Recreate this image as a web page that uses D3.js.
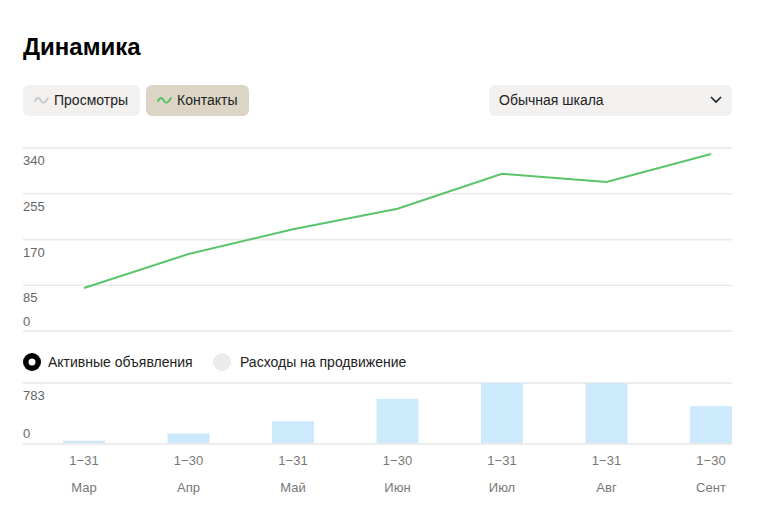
<!DOCTYPE html>
<html><head><meta charset="utf-8">
<script src="https://cdn.jsdelivr.net/npm/d3@7"></script>
<style>body{margin:0;background:#fff;font-family:"Liberation Sans",Arial,sans-serif}</style>
</head><body>
<svg id="c" width="759" height="523"></svg>
<script>
const months = ["Мар","Апр","Май","Июн","Июл","Авг","Сент"];
const ranges = ["1−31","1−30","1−31","1−30","1−31","1−31","1−30"];
const contacts = [80,143,189,227,292,277,329];
const activeAds = [30,125,284,577,783,783,481];
const lineTicks = [340,255,170,85,0];
const barTicks = [783,0];

const svg = d3.select("#c");
const F = '"Liberation Sans",Arial,sans-serif';

svg.append("text").attr("x",23).attr("y",55).attr("font-family",F)
  .attr("font-size",24).attr("font-weight","bold").attr("fill","#000").text("Динамика");

// buttons
function wave(g,x,y,color){
  g.append("path").attr("d",`M${x},${y+1} C${x+2},${y-3} ${x+4},${y-3} ${x+6},${y+1} C${x+8},${y+4} ${x+10},${y+3} ${x+13},${y-2}`)
   .attr("fill","none").attr("stroke",color).attr("stroke-width",1.8)
   .attr("stroke-linecap","round");
}
const b = svg.append("g");
b.append("rect").attr("x",23).attr("y",85).attr("width",117).attr("height",31).attr("rx",6).attr("fill","#f2f1ef");
wave(b,35,100,"#c9c9c9");
b.append("text").attr("x",54).attr("y",105).attr("font-family",F).attr("font-size",14).attr("fill","#222").text("Просмотры");
b.append("rect").attr("x",146).attr("y",85).attr("width",103).attr("height",31).attr("rx",6).attr("fill","#dcd5c5");
wave(b,158,100,"#4fc160");
b.append("text").attr("x",177).attr("y",105).attr("font-family",F).attr("font-size",14).attr("fill","#222").text("Контакты");

b.append("rect").attr("x",489).attr("y",85).attr("width",243).attr("height",31).attr("rx",6).attr("fill","#f2f1ef");
b.append("text").attr("x",499).attr("y",105).attr("font-family",F).attr("font-size",14).attr("fill","#222").text("Обычная шкала");
b.append("path").attr("d","M711,97 L716,102 L721,97").attr("fill","none").attr("stroke","#222").attr("stroke-width",1.6);

// scales
const x = d3.scalePoint().domain(months).range([84,711]);
const yL = d3.scaleLinear().domain([0,340]).range([331,148]);
const yB = d3.scaleLinear().domain([0,783]).range([443,383]);

// line chart grid
const gl = svg.append("g");
lineTicks.forEach((t,i)=>{
  const yy = yL(t);
  const thick = (i%2===0);
  gl.append("line").attr("x1",23).attr("x2",732).attr("y1",yy).attr("y2",yy)
    .attr("stroke", thick ? "#ececec" : "#e0e0e0").attr("stroke-width", thick?2:1);
  gl.append("text").attr("x",23).attr("y", t===0 ? yy-5 : yy+17)
    .attr("font-family",F).attr("font-size",13).attr("fill","#666").text(t);
});
svg.append("path").datum(contacts)
  .attr("d", d3.line().x((d,i)=>x(months[i])).y(d=>yL(d)))
  .attr("fill","none").attr("stroke","#5ac46b").attr("stroke-width",2);

// legend
const lg = svg.append("g");
lg.append("circle").attr("cx",32).attr("cy",362).attr("r",9).attr("fill","#000");
lg.append("circle").attr("cx",32).attr("cy",362).attr("r",3.5).attr("fill","#fff");
lg.append("text").attr("x",48).attr("y",367).attr("font-family",F).attr("font-size",14).attr("fill","#222").text("Активные объявления");
lg.append("circle").attr("cx",222).attr("cy",362).attr("r",9).attr("fill","#ebebeb");
lg.append("text").attr("x",240).attr("y",367).attr("font-family",F).attr("font-size",14).attr("fill","#222").text("Расходы на продвижение");

// bar chart
const gb = svg.append("g");
gb.append("line").attr("x1",23).attr("x2",732).attr("y1",yB(783)).attr("y2",yB(783)).attr("stroke","#ececec").attr("stroke-width",2);
gb.append("line").attr("x1",23).attr("x2",732).attr("y1",yB(0)+1).attr("y2",yB(0)+1).attr("stroke","#ececec").attr("stroke-width",2);
gb.selectAll("rect.bar").data(activeAds).enter().append("rect").attr("class","bar")
  .attr("x",(d,i)=>x(months[i])-21).attr("width",42)
  .attr("y",d=>yB(d)).attr("height",d=>yB(0)-yB(d)).attr("fill","#cde9fc");
barTicks.forEach(t=>{
  gb.append("text").attr("x",23).attr("y", t===0 ? yB(0)-5 : yB(t)+17)
    .attr("font-family",F).attr("font-size",13).attr("fill","#666").text(t);
});

// x labels
const gx = svg.append("g");
months.forEach((m,i)=>{
  gx.append("text").attr("x",x(m)).attr("y",465).attr("text-anchor","middle")
    .attr("font-family",F).attr("font-size",13).attr("fill","#777").text(ranges[i]);
  gx.append("text").attr("x",x(m)).attr("y",492).attr("text-anchor","middle")
    .attr("font-family",F).attr("font-size",13).attr("fill","#777").text(m);
});
</script>
</body></html>
